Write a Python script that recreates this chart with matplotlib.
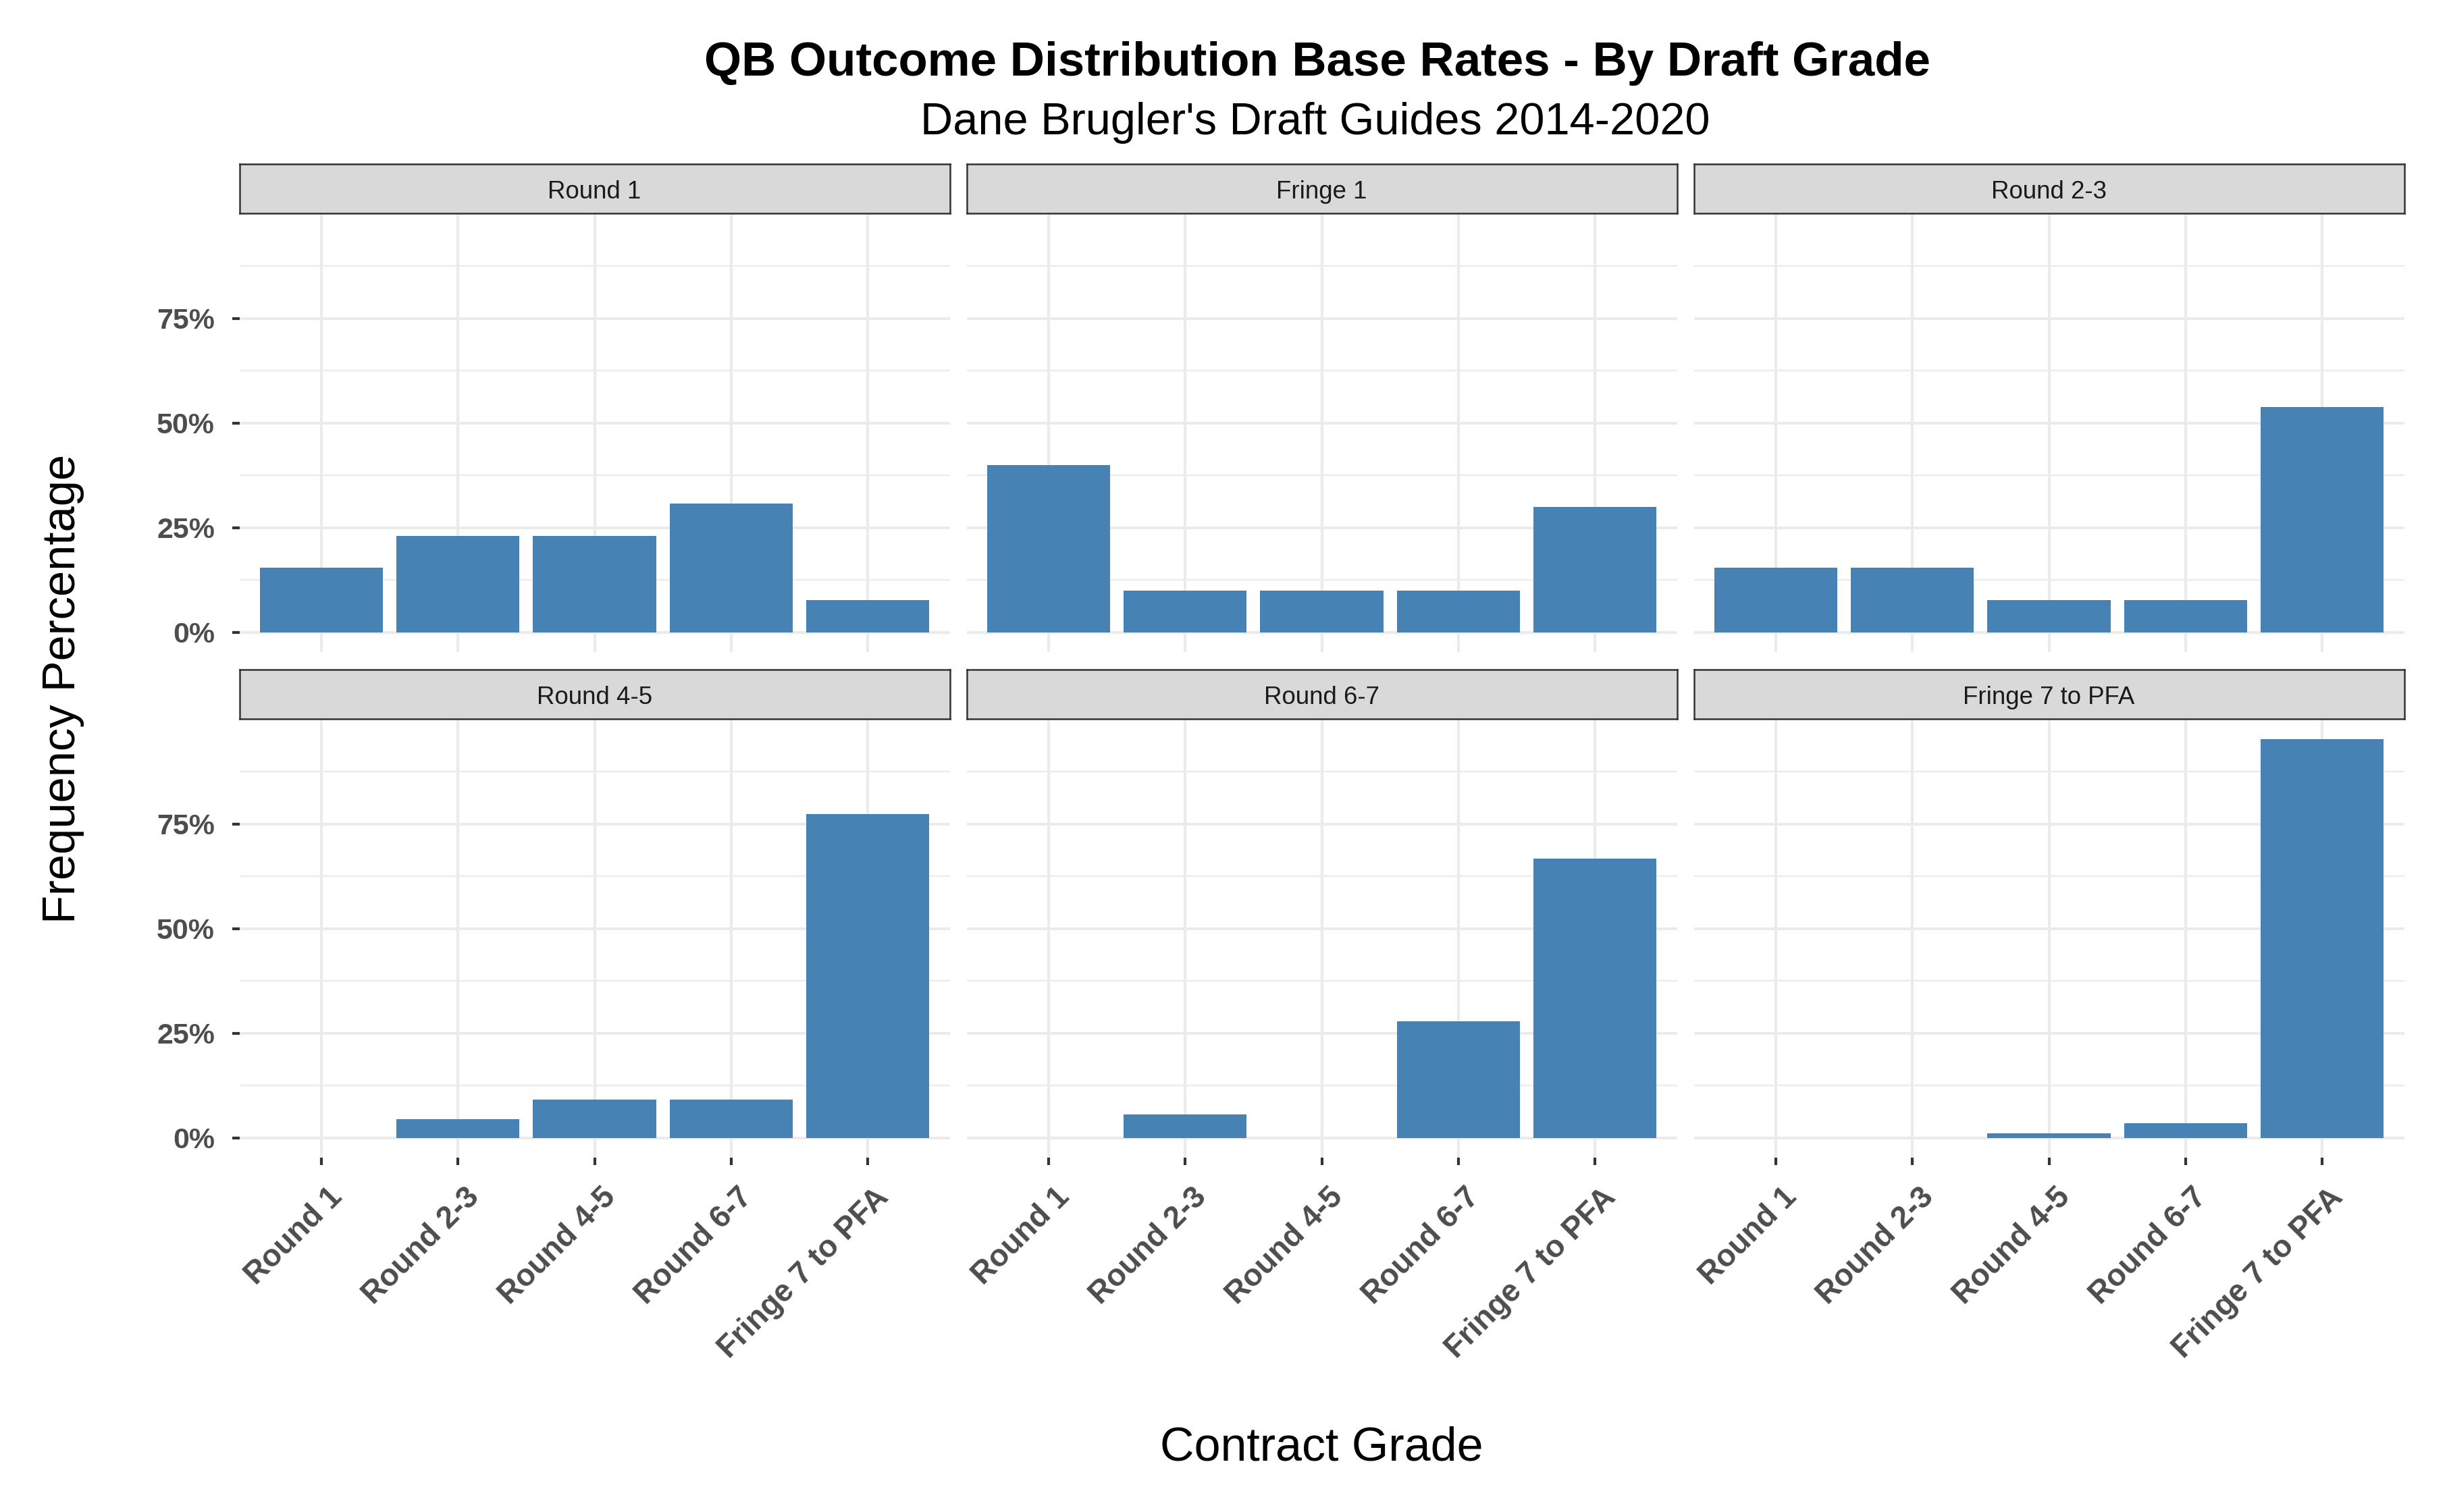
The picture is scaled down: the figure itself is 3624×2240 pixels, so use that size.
import matplotlib
matplotlib.use("Agg")
import matplotlib.pyplot as plt
from matplotlib.transforms import ScaledTranslation

# ---------------- data (percent) ----------------
contract_grades = ["Round 1", "Round 2-3", "Round 4-5", "Round 6-7", "Fringe 7 to PFA"]
draft_grades = ["Round 1", "Fringe 1", "Round 2-3", "Round 4-5", "Round 6-7", "Fringe 7 to PFA"]

round1 = [15.4, 23.1, 23.1, 30.8, 7.7]
fringe1 = [40.0, 10.0, 10.0, 10.0, 30.0]
round23 = [15.4, 15.4, 7.7, 7.7, 53.8]
round45 = [0.0, 4.5, 9.1, 9.1, 77.3]
round67 = [0.0, 5.6, 0.0, 27.8, 66.7]
fringe7 = [0.0, 0.0, 1.1, 3.5, 95.3]

y_ticks = [0, 25, 50, 75]
y_tick_labels = ["0%", "25%", "50%", "75%"]
y_minor = [12.5, 37.5, 62.5, 87.5]

title = "QB Outcome Distribution Base Rates - By Draft Grade"
subtitle = "Dane Brugler's Draft Guides 2014-2020"
x_title = "Contract Grade"
y_title = "Frequency Percentage"

series = [round1, fringe1, round23, round45, round67, fringe7]

# ---------------- figure ----------------
plt.rcParams["font.family"] = ["Liberation Sans", "DejaVu Sans"]
W, H, DPI = 3624, 2240, 300
fig = plt.figure(figsize=(W / DPI, H / DPI), dpi=DPI)
fig.patch.set_facecolor("white")


def fx(px):
    return px / W


def fy(px):
    return 1 - px / H


col_lefts = [354.5, 1431.5, 2508.5]
panel_w = 1052
row_tops = [316.3, 1065.2]
panel_h = 650
strip_h = 73.7

bar_color = "#4682B4"
grid_color = "#EBEBEB"
tick_color = "#333333"
label_color = "#4D4D4D"

ymax = max(max(s) for s in series)
ylo, yhi = -0.05 * ymax, 1.05 * ymax
xpos = list(range(1, len(contract_grades) + 1))

for i, (name, vals) in enumerate(zip(draft_grades, series)):
    r, c = divmod(i, 3)
    left = col_lefts[c]
    top = row_tops[r]
    ax = fig.add_axes([fx(left), fy(top + panel_h), panel_w / W, panel_h / H])
    ax.set_facecolor("white")
    ax.bar(xpos, vals, width=0.9, color=bar_color, zorder=2, linewidth=0)
    ax.set_xlim(0.4, len(contract_grades) + 0.6)
    ax.set_ylim(ylo, yhi)
    ax.set_axisbelow(True)
    for s in ax.spines.values():
        s.set_visible(False)

    ax.set_yticks(y_ticks)
    ax.set_yticks(y_minor, minor=True)
    ax.set_xticks(xpos)
    ax.grid(which="major", axis="both", color=grid_color, linewidth=1.0, zorder=0)
    ax.grid(which="minor", axis="y", color=grid_color, linewidth=0.55, zorder=0)
    ax.tick_params(which="minor", length=0)

    # y axis
    if c == 0:
        ax.set_yticklabels(y_tick_labels, fontsize=10.3, fontweight="bold", color=label_color)
        ax.tick_params(axis="y", which="major", length=2.75, width=1.0, color=tick_color, pad=6)
    else:
        ax.tick_params(axis="y", which="major", length=0, labelleft=False)

    # x axis
    if r == 1:
        ax.set_xticklabels(contract_grades, fontsize=11.0, fontweight="bold", color=label_color,
                           rotation=45, ha="right", va="top", rotation_mode="anchor")
        ax.tick_params(axis="x", which="major", length=2.75, width=1.0, color=tick_color, pad=5)
        off = ScaledTranslation(2.2 / 72, -1 / 72, fig.dpi_scale_trans)
        for lab in ax.get_xticklabels():
            lab.set_transform(lab.get_transform() + off)
    else:
        ax.tick_params(axis="x", which="major", length=0, labelbottom=False)

    # strip
    sax = fig.add_axes([fx(left), fy(top), panel_w / W, strip_h / H])
    sax.set_facecolor("#D9D9D9")
    sax.set_xticks([])
    sax.set_yticks([])
    for s in sax.spines.values():
        s.set_color("#333333")
        s.set_linewidth(0.6)
    sax.text(0.5, 0.296, name, ha="center", va="baseline", fontsize=8.8,
             color="#1A1A1A", transform=sax.transAxes)

# titles
fig.text(fx(1951), fy(112), title, ha="center", va="baseline", fontsize=17,
         fontweight="bold", color="black")
fig.text(fx(1948), fy(199), subtitle, ha="center", va="baseline", fontsize=16,
         color="black")
fig.text(fx(1957), fy(2164), x_title, ha="center", va="baseline", fontsize=16.8,
         color="black")
fig.text(fx(111), fy(1020), y_title, ha="center", va="baseline", fontsize=16.5,
         color="black", rotation=90, rotation_mode="anchor")

fig.savefig("out.png", dpi=DPI, facecolor="white")
